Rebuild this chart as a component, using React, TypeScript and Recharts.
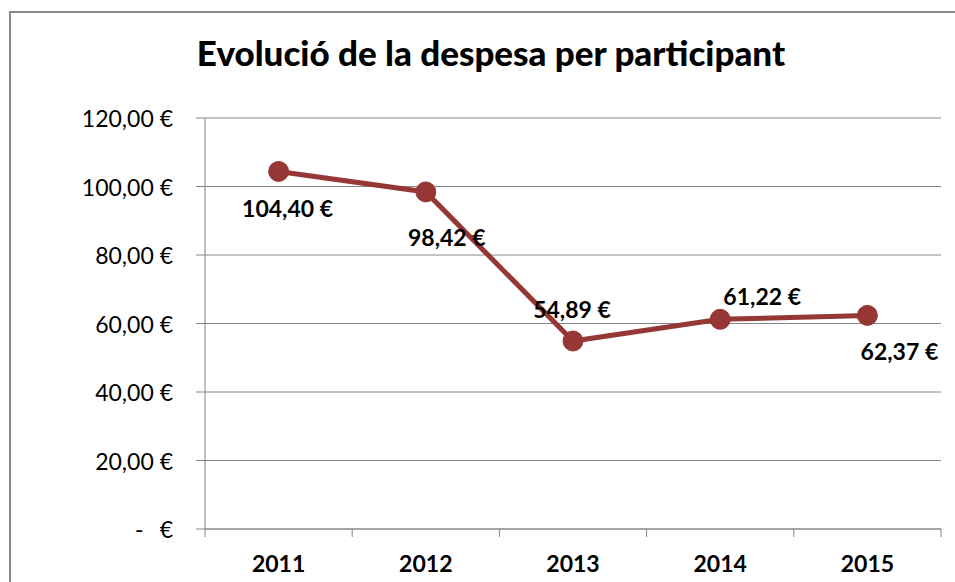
import { LineChart, Line, XAxis, YAxis, CartesianGrid, LabelList } from "recharts";

const YEARS = ["2011", "2012", "2013", "2014", "2015"];
const SPEND = [104.4, 98.42, 54.89, 61.22, 62.37];
const Y_TICKS = [0, 20, 40, 60, 80, 100, 120];
const X_TICKS = [0.5, 1, 1.5, 2, 2.5, 3, 3.5, 4, 4.5, 5, 5.5];

// Excel-style manual nudges for each data label (dx, dy from the marker)
const LABEL_OFFSETS = [
  [9, 37],
  [21, 45],
  [-1, -32],
  [42, -23],
  [32, 36],
];

const LINE_COLOR = "#953735";
const GRID_COLOR = "#868686";
const FONT = "Lato, 'Open Sans', sans-serif";

const data = YEARS.map((year, i) => ({ x: i + 1, year, value: SPEND[i] }));

function formatEuro(v: number): string {
  return v.toFixed(2).replace(".", ",") + " €";
}

const YTick = ({ x, y, payload }: any) => {
  if (payload.value === 0) {
    return (
      <g>
        <text x={x - 38} y={y} textAnchor="start" dominantBaseline="central" fontSize={23} fontFamily={FONT} fill="#000">
          -
        </text>
        <text x={x} y={y} textAnchor="end" dominantBaseline="central" fontSize={23} fontFamily={FONT} fill="#000">
          €
        </text>
      </g>
    );
  }
  return (
    <text x={x} y={y} textAnchor="end" dominantBaseline="central" fontSize={23} fontFamily={FONT} fill="#000">
      {formatEuro(payload.value)}
    </text>
  );
};

const XTick = ({ x, y, payload }: any) => {
  const v = payload.value;
  if (Number.isInteger(v)) {
    return (
      <text x={x} y={y + 34} textAnchor="middle" dominantBaseline="central" fontSize={23} fontWeight="bold" fontFamily={FONT} fill="#000">
        {YEARS[v - 1]}
      </text>
    );
  }
  return <line x1={x} y1={y} x2={x} y2={y + 8} stroke={GRID_COLOR} strokeWidth={1} />;
};

const DataLabel = ({ x, y, value, index }: any) => {
  const [dx, dy] = LABEL_OFFSETS[index] ?? [0, 0];
  return (
    <text x={x + dx} y={y + dy} textAnchor="middle" dominantBaseline="central" fontSize={23} fontWeight="bold" fontFamily={FONT} fill="#000">
      {formatEuro(value)}
    </text>
  );
};

export default function App() {
  return (
    <div style={{ position: "absolute", left: 0, top: 0, width: 955, height: 582, overflow: "hidden", background: "#fff" }}>
      <div
        style={{
          position: "absolute",
          left: 9,
          top: 11,
          width: 1000,
          height: 700,
          borderLeft: "2px solid #8c8c8c",
          borderTop: "2px solid #8c8c8c",
        }}
      />
      <div
        style={{
          position: "absolute",
          left: 0,
          top: 31,
          width: 982,
          textAlign: "center",
          fontFamily: FONT,
          fontWeight: 900,
          fontSize: 35,
          color: "#000",
          whiteSpace: "nowrap",
        }}
      >
        Evolució de la despesa per participant
      </div>
      <div style={{ position: "absolute", left: 0, top: 0 }}>
        <LineChart width={955} height={582} data={data} margin={{ top: 118, right: 14, bottom: 0, left: 85 }}>
          <CartesianGrid vertical={false} stroke={GRID_COLOR} strokeWidth={1} />
          <XAxis
            dataKey="x"
            type="number"
            domain={[0.5, 5.5]}
            ticks={X_TICKS}
            interval={0}
            height={53}
            tickLine={false}
            tickSize={0}
            tickMargin={0}
            axisLine={{ stroke: GRID_COLOR, strokeWidth: 1 }}
            tick={<XTick />}
          />
          <YAxis
            type="number"
            domain={[0, 120]}
            ticks={Y_TICKS}
            interval={0}
            width={120}
            tickSize={9}
            tickMargin={23}
            axisLine={{ stroke: GRID_COLOR, strokeWidth: 1 }}
            tickLine={{ stroke: GRID_COLOR, strokeWidth: 1 }}
            tick={<YTick />}
          />
          <Line
            type="linear"
            dataKey="value"
            stroke={LINE_COLOR}
            strokeWidth={5}
            dot={{ r: 10, fill: LINE_COLOR, stroke: LINE_COLOR, strokeWidth: 1 }}
            activeDot={false}
            isAnimationActive={false}
          >
            <LabelList dataKey="value" content={<DataLabel />} />
          </Line>
        </LineChart>
      </div>
    </div>
  );
}
